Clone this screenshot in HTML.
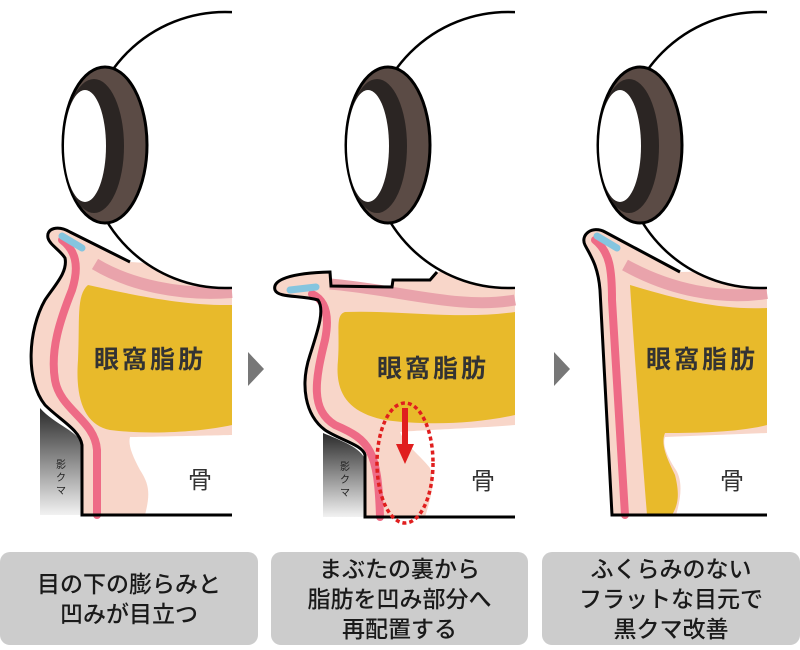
<!DOCTYPE html>
<html><head><meta charset="utf-8"><style>
html,body{margin:0;padding:0;background:#fff;}
.box{position:absolute;background:#cccccc;border-radius:10px;display:flex;align-items:center;justify-content:center;text-align:center;font-family:"Liberation Sans","Noto Sans CJK JP",sans-serif;font-size:23px;line-height:30px;color:#1a1a1a;font-weight:500;}
</style></head><body>
<div style="position:relative;width:800px;height:650px;overflow:hidden;">
<svg width="800" height="650" viewBox="0 0 800 650" xmlns="http://www.w3.org/2000/svg" style="position:absolute;left:0;top:0">
<defs>
<clipPath id="pc"><rect x="0" y="0" width="232" height="520"/></clipPath>
<linearGradient id="sh" x1="0" y1="0" x2="0" y2="1"><stop offset="0" stop-color="#2a2a2a"/><stop offset="1" stop-color="#f2f2f2"/></linearGradient>
<g id="eye">
<circle cx="225" cy="150" r="138" fill="#fff" stroke="#000" stroke-width="2.5"/>
<ellipse cx="105" cy="145" rx="42" ry="78" fill="#5b4b45" stroke="#000" stroke-width="3"/>
<ellipse cx="94" cy="146" rx="30" ry="67" fill="#2b2523"/>
<ellipse cx="85" cy="146" rx="21" ry="56" fill="#fff"/>
</g>
</defs>
<g font-family="Liberation Sans, Noto Sans CJK JP, sans-serif" font-weight="bold" fill="#333">
<!-- Panel 1 -->
<path d="M40,408 C55,425 80,432 82,445 L82,515 L40,515 Z" fill="url(#sh)"/>
<path d="M232,268 L232,515 L82,515 L82,445 C80,430 60,420 45,405 C25,380 28,330 45,300 C55,285 68,272 65,258 C60,250 50,245 48,238 C46,228 58,225 70,232 L130,262 Z" fill="#f8d6c9"/>
<path d="M95,264 C130,285 180,296 232,292" fill="none" stroke="#e9a3ab" stroke-width="12"/>
<path d="M88,285 C120,292 180,306 232,305 L232,425 C200,432 150,435 110,430 C85,425 75,400 78,360 C80,320 76,295 88,285 Z" fill="#e8ba2b"/>
<path d="M130,437 C145,437 232,435 232,435 L232,515 L145,515 C150,495 150,485 140,470 C132,455 128,445 130,437 Z" fill="#fff"/>
<path d="M62,240 C75,250 80,265 72,290 C60,320 50,350 55,380 C60,410 95,420 97,450 L97,515" fill="none" stroke="#ee6b86" stroke-width="8" stroke-linecap="round"/>
<path d="M62,236 L82,248" stroke="#85c5df" stroke-width="7" stroke-linecap="round"/>
<g clip-path="url(#pc)"><use href="#eye"/></g>
<path d="M232,515 L82,515 L82,445 C80,430 60,420 45,405 C25,380 28,330 45,300 C55,285 68,272 65,258 C60,250 50,245 48,238 C46,228 58,225 70,232 L130,262" fill="none" stroke="#000" stroke-width="3"/>
<text x="150" y="368" font-size="25" text-anchor="middle" letter-spacing="3">眼窩脂肪</text>
<text x="200" y="488" font-size="24" text-anchor="middle" font-weight="normal">骨</text>
<text x="61" y="468" font-size="10" text-anchor="middle" font-weight="normal" fill="#222"><tspan x="61">影</tspan><tspan x="61" dy="13">ク</tspan><tspan x="61" dy="13">マ</tspan></text>

<!-- Panel 2 -->
<path d="M323,433 C340,440 362,448 365,460 L365,517 L323,517 Z" fill="url(#sh)"/>
<path d="M515,270 L515,517 L365,517 L365,455 C363,445 340,440 325,430 C305,415 300,385 310,355 C318,330 325,310 318,300 C300,295 278,298 275,290 C272,280 290,273 330,272 L331,286 L392,287 L393,280 L430,280 L437,272 Z" fill="#f8d6c9"/>
<path d="M330,284 C400,290 460,310 515,300" fill="none" stroke="#e9a3ab" stroke-width="11"/>
<path d="M345,312 C400,310 460,320 515,312 L515,415 C470,425 420,425 385,420 C345,412 335,390 338,360 C340,330 335,315 345,312 Z" fill="#e8ba2b"/>
<path d="M400,432 C420,430 480,428 515,425 L515,517 L425,517 C432,495 435,480 430,468 C420,455 405,445 400,432 Z" fill="#fff"/>
<path d="M312,294 C325,300 330,315 325,340 C315,380 310,410 335,425 C370,440 378,450 380,517" fill="none" stroke="#ee6b86" stroke-width="8" stroke-linecap="round"/>
<path d="M290,290 L316,287" stroke="#85c5df" stroke-width="7" stroke-linecap="round"/>
<g transform="translate(283,0)"><g clip-path="url(#pc)"><use href="#eye"/></g></g>
<path d="M515,517 L365,517 L365,455 C363,445 340,440 325,430 C305,415 300,385 310,355 C318,330 325,310 318,300 C300,295 278,298 275,290 C272,280 290,273 330,272 L331,286 L392,287 L393,280 L430,280 L437,272" fill="none" stroke="#000" stroke-width="3"/>
<text x="433" y="377" font-size="25" text-anchor="middle" letter-spacing="3">眼窩脂肪</text>
<text x="483" y="489" font-size="24" text-anchor="middle" font-weight="normal">骨</text>
<text x="345" y="470" font-size="10" text-anchor="middle" font-weight="normal" fill="#222"><tspan x="345">影</tspan><tspan x="345" dy="13">ク</tspan><tspan x="345" dy="13">マ</tspan></text>
<ellipse cx="405" cy="463" rx="28" ry="60" fill="none" stroke="#e01e1e" stroke-width="3.5" stroke-dasharray="4 3"/>
<path d="M405,408 L405,448" stroke="#e01e1e" stroke-width="6"/>
<path d="M396,444 L414,444 L405,464 Z" fill="#e01e1e"/>

<!-- Panel 3 -->
<path d="M767,270 L767,515 L612,515 L600,290 C598,265 590,255 585,245 C580,235 592,225 605,232 L680,272 Z" fill="#f8d6c9"/>
<path d="M625,265 C670,290 720,300 767,293" fill="none" stroke="#e9a3ab" stroke-width="12"/>
<path d="M630,285 C680,300 720,310 767,308 L767,425 C740,432 700,433 665,433 C660,445 668,460 675,475 C680,495 678,505 672,515 L647,515 C642,450 636,380 630,285 Z" fill="#e8ba2b"/>
<path d="M665,437 L767,433 L767,515 L676,515 C682,495 682,480 676,470 C668,458 662,445 665,437 Z" fill="#fff"/>
<path d="M595,240 C610,252 612,270 612,300 L625,515" fill="none" stroke="#ee6b86" stroke-width="8" stroke-linecap="round"/>
<path d="M597,236 L617,248" stroke="#85c5df" stroke-width="7" stroke-linecap="round"/>
<g transform="translate(535,0)"><g clip-path="url(#pc)"><use href="#eye"/></g></g>
<path d="M767,515 L612,515 L600,290 C598,265 590,255 585,245 C580,235 592,225 605,232 L680,272" fill="none" stroke="#000" stroke-width="3"/>
<text x="702" y="368" font-size="25" text-anchor="middle" letter-spacing="3">眼窩脂肪</text>
<text x="732" y="489" font-size="24" text-anchor="middle" font-weight="normal">骨</text>
</g>
<path d="M248,352 L264,369 L248,386 Z" fill="#777"/>
<path d="M554,352 L570,369 L554,386 Z" fill="#777"/>
</svg>
<div class="box" style="left:0;top:552px;width:258px;height:93px;">目の下の膨らみと<br>凹みが目立つ</div>
<div class="box" style="left:271px;top:552px;width:257px;height:93px;">まぶたの裏から<br>脂肪を凹み部分へ<br>再配置する</div>
<div class="box" style="left:542px;top:552px;width:258px;height:93px;">ふくらみのない<br>フラットな目元で<br>黒クマ改善</div>
</div>
</body></html>
